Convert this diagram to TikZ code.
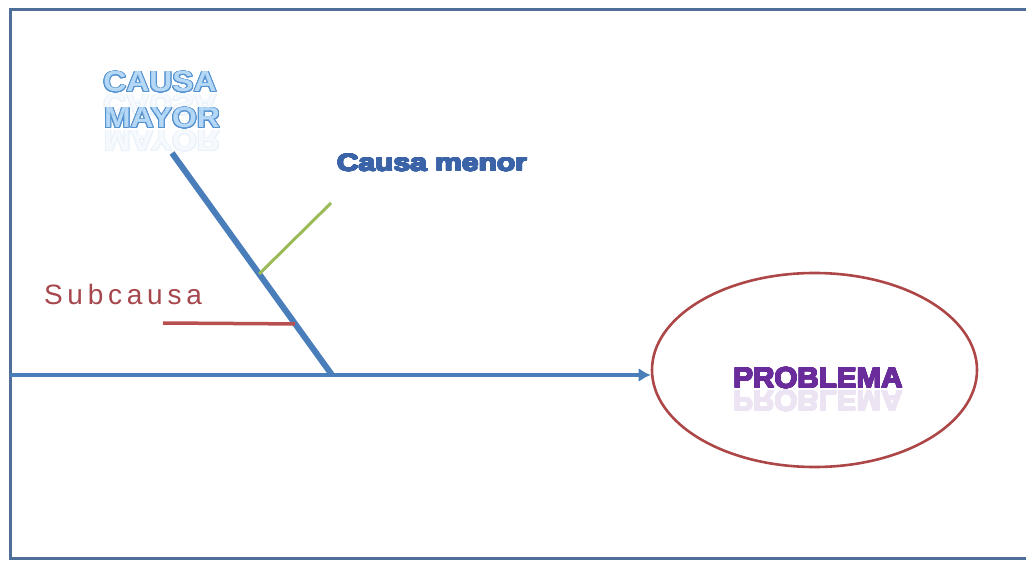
\documentclass[tikz,border=0pt]{standalone}
\usepackage{fontspec}
\setmainfont{Liberation Sans}
\newfontfamily\spacedfont[LetterSpace=17]{Liberation Sans}
\usepackage{contour}
\contournumber{24}
\usetikzlibrary{arrows.meta,shapes.geometric,calc}

\definecolor{framec}{HTML}{4F6F98}
\definecolor{spinec}{HTML}{4A7EBB}
\definecolor{minorc}{HTML}{9BBB59}
\definecolor{subc}{HTML}{B9504F}
\definecolor{subtext}{HTML}{A5474C}
\definecolor{ovalc}{HTML}{AD4747}
\definecolor{menorc}{HTML}{3A63A8}
\definecolor{probc}{HTML}{6A2C9A}
\definecolor{mayorfill}{HTML}{B4D8F5}
\definecolor{mayoredge}{HTML}{5592D0}

\tikzset{
  bone/.style={line width=#1, line cap=butt},
  heavy/.style={font=\bfseries\fontsize{#1}{#1}\selectfont, inner sep=0pt, anchor=base},
  mirrored/.style={yscale=-1},
}

% heavy lettering: the glyphs are thickened by a same-coloured contour
\newcommand{\heavyword}[2]{\contourlength{0.55pt}\contour{#1}{\textcolor{#1}{#2}}}
% outlined lettering for the major cause
\newcommand{\mayorword}[1]{\contourlength{0.9pt}\contour{mayoredge}{\textcolor{mayorfill}{#1}}}

\begin{document}
\begin{tikzpicture}[x=1pt, y=-1pt]
  \useasboundingbox (0,0) rectangle (1026,561);

  % outer frame (open on the right)
  \draw[framec, line width=3pt] (1026,10) -- (10,10) -- (10,558) -- (1026,558);

  % problem oval
  \node[ellipse, draw=ovalc, line width=2.6pt, minimum width=325pt, minimum height=194pt,
        inner sep=0pt] (prob) at (814.5,370) {};
  \node[heavy=29, xscale=1.02] (probtxt) at (818,388) {\heavyword{probc}{PROBLEMA}};
  \begin{scope}[transparency group, opacity=0.13]
    \node[heavy=29, xscale=1.02, mirrored] (probref) at (818,391) {\heavyword{probc}{PROBLEMA}};
  \end{scope}

  % main spine
  \coordinate (tail) at (10,375);
  \draw[spinec, line width=3.8pt, -{Latex[length=12pt,width=14pt]}] (tail) -- (tail -| prob.west);

  % major cause bone
  \coordinate (mtop) at (172,153);
  \coordinate (joint) at (332,375);
  \draw[spinec, bone=6pt] (mtop) -- (joint);

  % minor cause bone
  \coordinate (gstart) at ($(mtop)!0.545!(joint)$);
  \coordinate (gend) at (331,203);
  \draw[minorc, bone=3pt] (gstart) -- (gend);

  % sub-cause bone
  \coordinate (sstart) at (163,323);
  \coordinate (send) at ($(mtop)!0.77!(joint)$);
  \draw[subc, bone=3.5pt] (sstart) -- (send);

  % labels
  \node[heavy=29, xscale=1.1] (causa) at (160,92) {\mayorword{CAUSA}};
  \node[heavy=29, xscale=1.1] (mayor) at (162,128) {\mayorword{MAYOR}};
  \begin{scope}[transparency group, opacity=0.12]
    \node[heavy=29, xscale=1.1, mirrored] (causaref) at (160,95) {\mayorword{CAUSA}};
    \node[heavy=29, xscale=1.1, mirrored] (mayorref) at (162,131) {\mayorword{MAYOR}};
  \end{scope}

  \node[heavy=24, xscale=1.25] (menor) at (432,171) {\heavyword{menorc}{Causa menor}};

  \node[font=\spacedfont\fontsize{28}{28}\selectfont, text=subtext, inner sep=0pt, anchor=base]
        (sub) at (123,305) {Subcausa};
\end{tikzpicture}
\end{document}
